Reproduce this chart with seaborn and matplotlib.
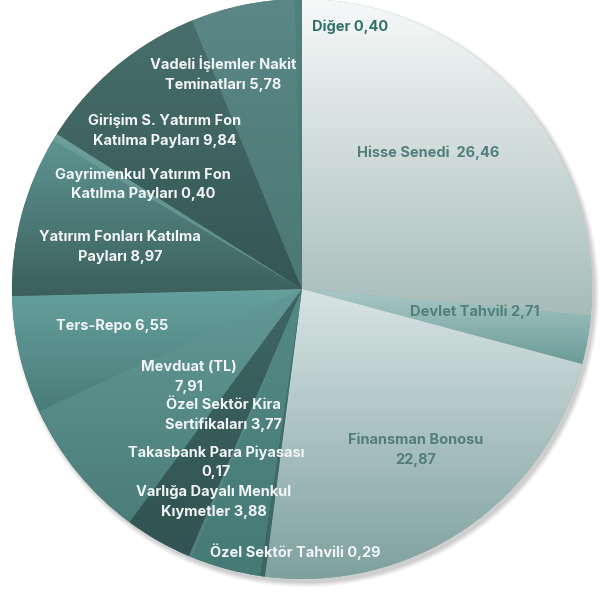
import numpy as np
import matplotlib
matplotlib.use("Agg")
import matplotlib.pyplot as plt
import seaborn as sns
from matplotlib.colors import to_rgb
from matplotlib.patches import Circle

# ---------------- data ----------------
categories = [
    "Hisse Senedi", "Devlet Tahvili", "Finansman Bonosu", "Özel Sektör Tahvili",
    "Varlığa Dayalı Menkul Kıymetler", "Takasbank Para Piyasası",
    "Özel Sektör Kira Sertifikaları", "Mevduat (TL)", "Ters-Repo",
    "Yatırım Fonları Katılma Payları", "Gayrimenkul Yatırım Fon Katılma Payları",
    "Girişim S. Yatırım Fon Katılma Payları", "Vadeli İşlemler Nakit Teminatları",
    "Diğer",
]
values = [26.46, 2.71, 22.87, 0.29, 3.88, 0.17, 3.77, 7.91, 6.55, 8.97, 0.40, 9.84, 5.78, 0.40]

# label text templates ({v} = value with decimal comma)
label_templates = [
    "Hisse Senedi  {v}", "Devlet Tahvili {v}", "Finansman Bonosu\n{v}",
    "Özel Sektör Tahvili {v}", "Varlığa Dayalı Menkul\nKıymetler {v}",
    "Takasbank Para Piyasası\n{v}", "Özel Sektör Kira\nSertifikaları {v}",
    "Mevduat (TL)\n{v}", "Ters-Repo {v}", "Yatırım Fonları Katılma\nPayları {v}",
    "Gayrimenkul Yatırım Fon\nKatılma Payları {v}",
    "Girişim S. Yatırım Fon\nKatılma Payları {v}",
    "Vadeli İşlemler Nakit\nTeminatları {v}", "Diğer {v}",
]

# ---------------- style ----------------
grad_top = ["#f7f9f9", "#abcac8", "#d8e4e3", "#447370", "#558986", "#5e908d",
            "#3e6664", "#629996", "#66a19e", "#5e9592", "#6f9f9c", "#486f6d",
            "#5b8886", "#4f817e"]
grad_bot = ["#a6bcb9", "#699a97", "#7b9f9d", "#3b6663", "#467a77", "#4e807d",
            "#315351", "#4b7d7a", "#4a7c79", "#3b5f5d", "#5a8a87", "#345654", "#4b7875", "#467572"]
text_colors = ["#527f7c", "#527f7c", "#527f7c", "#f2f5f5", "#f2f5f5", "#f2f5f5", "#f2f5f5",
               "#f2f5f5", "#f2f5f5", "#f2f5f5", "#f2f5f5", "#f2f5f5", "#f2f5f5", "#2f716d"]
# label centres in image pixel coordinates (x, y from top)
label_pos = [(428, 153), (475, 312), (416, 450), (295, 552), (214, 502), (216, 462),
             (223, 415), (189, 377), (112, 326), (120, 247), (143, 184), (165, 131),
             (223, 74), (350, 27)]

W, H = 602, 592
CX, CY, R = 302, 289, 290

sns.set_theme(style="white")
plt.rcParams["font.family"] = ["Inter", "DejaVu Sans"]

fig = plt.figure(figsize=(W / 100, H / 100), dpi=100)
ax = fig.add_axes([0, 0, 1, 1])

# soft drop shadow
for i, a in enumerate([0.05, 0.05, 0.06, 0.07, 0.08]):
    ax.add_patch(Circle((CX + 3, H - CY - 4), R + 4 - i, facecolor="#555555",
                        edgecolor="none", alpha=a, zorder=0))

wedges, _ = ax.pie(values, startangle=90, counterclock=False, radius=R,
                   center=(CX, H - CY), colors=grad_bot,
                   wedgeprops=dict(linewidth=0, edgecolor="none"), frame=True)

for w, ct, cb in zip(wedges, grad_top, grad_bot):
    verts = w.get_path().vertices
    y0, y1 = verts[:, 1].min(), verts[:, 1].max()
    x0, x1 = verts[:, 0].min(), verts[:, 0].max()
    t = np.linspace(0, 1, 256)[:, None]
    c0, c1 = np.array(to_rgb(ct)), np.array(to_rgb(cb))
    img = (c1[None, :] * (1 - t) + c0[None, :] * t)[:, None, :]  # bottom row first
    im = ax.imshow(img, extent=(x0 - 1, x1 + 1, y0 - 1, y1 + 1), origin="lower",
                   aspect="auto", interpolation="bilinear", zorder=2)
    im.set_clip_path(w)

for tmpl, v, (px, py), tc in zip(label_templates, values, label_pos, text_colors):
    txt = tmpl.format(v=f"{v:.2f}".replace(".", ","))
    ax.text(px, H - py, txt, ha="center", va="center", color=tc, fontsize=10.5,
            fontweight="bold", linespacing=1.5, zorder=5)

ax.set_xlim(0, W)
ax.set_ylim(0, H)
ax.set_axis_off()
fig.savefig("out.png", dpi=100)
